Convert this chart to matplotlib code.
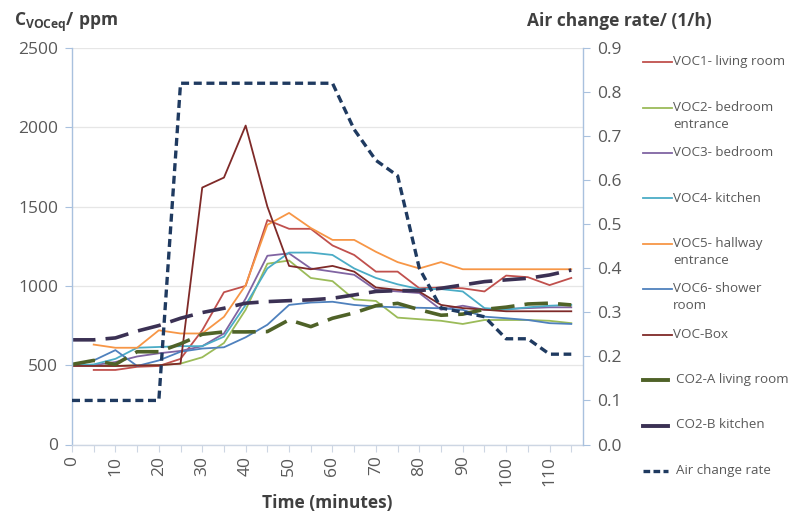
import numpy as np
import matplotlib
matplotlib.use("Agg")
import matplotlib.pyplot as plt
from matplotlib.lines import Line2D

plt.rcParams['font.family'] = ['Open Sans', 'DejaVu Sans']
plt.rcParams['mathtext.fontset'] = 'custom'
plt.rcParams['mathtext.rm'] = 'Open Sans'
plt.rcParams['mathtext.bf'] = 'Open Sans:bold'

# ---------------- data ----------------
time_min = list(range(0, 120, 5))  # 0..115

voc1 = [None, 470, 470, 490, 495, 540, 720, 960, 1000, 1415, 1360, 1360, 1255, 1195, 1090, 1090,
        985, 990, 985, 965, 1065, 1055, 1005, 1050]
voc2 = [500, 500, 495, 500, 500, 510, 550, 640, 850, 1140, 1160, 1050, 1030, 915, 905, 800,
        790, 780, 760, 785, 785, 785, 780, 765]
voc3 = [500, 500, 520, 555, 575, 590, 620, 700, 920, 1190, 1205, 1110, 1090, 1070, 975, 965,
        955, 850, 875, 850, 855, 860, 865, 865]
voc4 = [500, 505, 540, 610, 615, 620, 620, 680, 880, 1110, 1210, 1210, 1195, 1110, 1050, 1010,
        980, 980, 965, 860, 850, 865, 875, 880]
voc5 = [None, 630, 610, 610, 720, 700, 700, 805, 1005, 1385, 1460, 1365, 1290, 1290, 1215, 1150,
        1110, 1150, 1105, 1105, 1105, 1105, 1105, 1105]
voc6 = [500, 530, 595, 495, 530, 585, 605, 613, 676, 755, 880, 895, 900, 880, 870, 865,
        862, 859, 849, 806, 796, 785, 765, 760]
voc_box = [495, 495, 495, 498, 500, 510, 1620, 1683, 2011, 1500, 1126, 1105, 1126, 1090, 990, 975,
           964, 880, 860, 850, 840, 840, 840, 840]
co2_a = [505, 530, 505, 585, 585, 635, 695, 710, 710, 712, 786, 743, 796, 830, 875, 890,
         850, 815, 822, 852, 866, 886, 891, 880]
co2_b = [660, 660, 672, 715, 750, 796, 832, 859, 891, 901, 907, 912, 922, 943, 965, 970,
         970, 985, 1006, 1027, 1038, 1048, 1069, 1100]
air_change = [0.10, 0.10, 0.10, 0.10, 0.10, 0.82, 0.82, 0.82, 0.82, 0.82, 0.82, 0.82, 0.82,
              0.715, 0.645, 0.61, 0.40, 0.31, 0.30, 0.29, 0.24, 0.24, 0.205, 0.205]

voc_names = ["VOC1- living room", "VOC2- bedroom\nentrance", "VOC3- bedroom", "VOC4- kitchen",
             "VOC5- hallway\nentrance", "VOC6- shower\nroom", "VOC-Box"]
co2_names = ["CO2-A living room", "CO2-B kitchen"]
air_name = "Air change rate"

left_ticks = [0, 500, 1000, 1500, 2000, 2500]
right_ticks = [0.0, 0.1, 0.2, 0.3, 0.4, 0.5, 0.6, 0.7, 0.8, 0.9]

# ---------------- styles ----------------
voc_colors = ["#C0504D", "#9BBB59", "#8064A2", "#4BACC6", "#F79646", "#4F81BD", "#7F2A28"]
co2_colors = ["#4F6228", "#3B3154"]
air_color = "#1F3A60"
tick_color = "#595959"
label_color = "#404040"


def arr(v):
    return np.array([np.nan if x is None else x for x in v], dtype=float)


W, H = 788, 515
fig = plt.figure(figsize=(W / 100, H / 100), dpi=100)
x0, x1, ytop, ybot = 72, 583, 48, 444.5
ax = fig.add_axes([x0 / W, 1 - ybot / H, (x1 - x0) / W, (ybot - ytop) / H])
ax2 = ax.twinx()

t = np.array(time_min)
voc_series = [voc1, voc2, voc3, voc4, voc5, voc6, voc_box]
for s, c in zip(voc_series, voc_colors):
    ax.plot(t, arr(s), color=c, lw=1.3, solid_joinstyle='round')
for s, c in zip([co2_a, co2_b], co2_colors):
    ax.plot(t, arr(s), color=c, lw=2.6, dashes=(6.5, 2.8))
ax2.plot(t, arr(air_change), color=air_color, lw=2.4, dashes=(2.4, 1.4))

ax.set_xlim(0, 117.7)
ax.set_ylim(0, 2500)
ax2.set_ylim(0, 0.9)

ax.set_yticks(left_ticks)
ax.set_yticklabels([str(v) for v in left_ticks])
ax2.set_yticks(right_ticks)
ax2.set_yticklabels([f"{v:.1f}" for v in right_ticks])
ax.set_xticks(time_min)
ax.set_xticklabels([str(v) if v % 10 == 0 else "" for v in time_min], rotation=90)

ax.grid(axis='y', color='#E6E6E6', lw=0.9)
ax.set_axisbelow(True)

for a in (ax, ax2):
    a.spines['top'].set_visible(False)
ax2.spines['left'].set_visible(False)
ax2.spines['bottom'].set_visible(False)
ax.spines['right'].set_visible(False)
ax.spines['left'].set_color('#A9C1DE')
ax2.spines['right'].set_color('#A9C1DE')
ax.spines['bottom'].set_color('#CDD6E3')
for sp in (ax.spines['left'], ax2.spines['right'], ax.spines['bottom']):
    sp.set_linewidth(1.0)

ax.tick_params(axis='y', length=5, color='#A9C1DE', labelsize=12.5, labelcolor=tick_color, pad=5)
ax2.tick_params(axis='y', length=5, color='#A9C1DE', labelsize=12.5, labelcolor=tick_color, pad=5)
ax.tick_params(axis='x', length=5, color='#CDD6E3', labelsize=12.5, labelcolor=tick_color, pad=3)

# axis titles
fig.text(14 / W, 1 - 26 / H, r"$\mathbf{C}_{\mathbf{VOCeq}}\mathbf{/\ ppm}$", fontsize=12.5,
         color=label_color, ha='left', va='baseline')
fig.text(712 / W, 1 - 26 / H, "Air change rate/ (1/h)", fontsize=12.5, fontweight='bold',
         color=label_color, ha='right', va='baseline')
fig.text(327 / W, 1 - 503 / H, "Time (minutes)", fontsize=12.5, fontweight='bold',
         color=label_color, ha='center', va='center')

# legend (manual, to keep wrapped labels aligned with their first line)
entries = []
for n, c in zip(voc_names, voc_colors):
    entries.append((n, c, 1.3, None))
for n, c in zip(co2_names, co2_colors):
    entries.append((n, c, 2.8, None))
entries.append((air_name, air_color, 2.4, (2.0, 1.0)))

y0 = 62.3
step = 45.4
for i, (n, c, lw, d) in enumerate(entries):
    yy = 1 - (y0 + i * step) / H
    if i >= 7:
        xa, xb, xt = 643 / W, 668 / W, 676 / W
    else:
        xa, xb, xt = 643 / W, 672 / W, 673 / W
    ln = Line2D([xa, xb], [yy, yy], transform=fig.transFigure, color=c, lw=lw)
    if d is not None:
        ln.set_dashes(d)
    fig.add_artist(ln)
    fig.text(xt, yy + 7 / H, n, fontsize=9.6, color=tick_color, ha='left', va='top',
             linespacing=1.4, transform=fig.transFigure)

fig.savefig("out.png", dpi=100)
